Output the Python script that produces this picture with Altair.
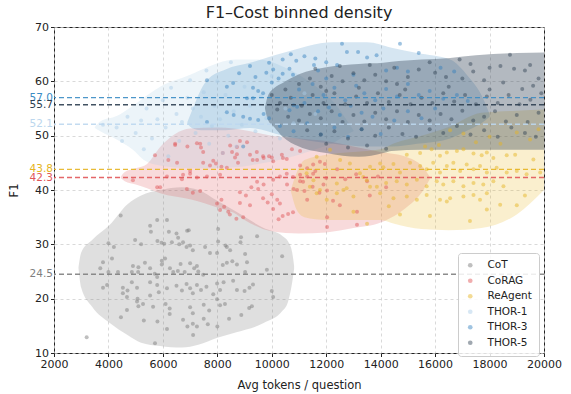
import altair as alt
import pandas as pd

SERIES = ["CoT", "CoRAG", "ReAgent", "THOR-1", "THOR-3", "THOR-5"]
POINT_COLORS = ["#7f7f7f", "#e15759", "#e6b422", "#a9cbe8", "#2f7fbd", "#2c3e50"]
POINT_OPACITY = [0.5, 0.45, 0.45, 0.45, 0.5, 0.5]
LINE_COLORS = ["#7f7f7f", "#e15759", "#e6b422", "#bcd7ee", "#3a8cc4", "#2c3e50"]
BLOB_COLORS = ["#7f7f7f", "#e15759", "#e6b422", "#9ecae1", "#3182bd", "#2c3e50"]
BLOB_OPACITY = [0.25, 0.22, 0.22, 0.2, 0.2, 0.36]
MEANS = [24.5, 42.3, 43.8, 52.1, 57.0, 55.7]

X_TICKS = [2000, 4000, 6000, 8000, 10000, 12000, 14000, 16000, 18000, 20000]
Y_TICKS = [10, 20, 30, 40, 50, 60, 70]

# density outlines: x, upper F1, lower F1
COT_BLOB_X = [2900, 3000, 3400, 4050, 4700, 5200, 5900, 6700, 7300, 8000, 8700, 9700, 10400, 10600, 10750, 10820]
COT_BLOB_TOP = [25.8, 28.5, 30.8, 33.6, 37.4, 39.0, 40.0, 40.5, 40.0, 38.0, 36.0, 33.0, 31.5, 30.5, 28.5, 26.0]
COT_BLOB_BOT = [25.6, 22.0, 18.5, 15.5, 13.3, 11.9, 11.3, 11.0, 11.5, 12.8, 13.8, 15.5, 17.8, 19.5, 23.0, 25.5]

CORAG_BLOB_X = [4450, 4600, 5000, 5420, 5900, 7000, 8000, 8600, 9000, 10000, 11000, 12000, 13000, 14000, 15000, 15500, 15800]
CORAG_BLOB_TOP = [42.4, 43.3, 44.0, 44.8, 47.9, 51.3, 51.5, 51.3, 51.0, 50.0, 49.5, 49.0, 48.0, 47.0, 46.0, 44.5, 42.5]
CORAG_BLOB_BOT = [42.2, 41.6, 41.0, 40.3, 39.4, 38.3, 36.8, 35.8, 34.5, 32.4, 32.0, 32.2, 33.0, 34.0, 37.0, 39.5, 42.0]

REAGENT_BLOB_X = [10700, 10900, 11200, 12000, 13000, 14000, 14500, 15500, 16500, 17700, 19000, 20000]
REAGENT_BLOB_TOP = [40.0, 43.0, 45.5, 46.5, 47.0, 47.5, 48.6, 50.0, 51.6, 54.2, 54.6, 54.8]
REAGENT_BLOB_BOT = [39.8, 36.5, 35.0, 34.5, 34.5, 34.5, 33.8, 32.8, 32.6, 33.0, 35.5, 40.0]

THOR1_BLOB_X = [3500, 3700, 4300, 4900, 5300, 5900, 7000, 7350, 8700, 9500, 10500, 11500, 12300, 12800, 13000]
THOR1_BLOB_TOP = [51.6, 52.6, 53.6, 55.5, 57.0, 59.0, 61.2, 62.0, 64.0, 64.0, 62.5, 59.5, 56.0, 52.5, 51.0]
THOR1_BLOB_BOT = [51.4, 50.8, 49.3, 47.4, 45.5, 44.5, 44.0, 44.0, 44.2, 44.8, 45.8, 47.3, 48.8, 50.3, 50.8]

THOR3_BLOB_X = [6900, 7100, 7400, 7620, 8300, 9200, 10400, 12250, 13500, 14400, 15340, 16550, 17200, 17700, 18000]
THOR3_BLOB_TOP = [52.5, 55.0, 58.5, 60.2, 62.2, 63.4, 65.2, 67.2, 67.2, 66.2, 65.2, 64.0, 61.0, 57.5, 54.0]
THOR3_BLOB_BOT = [52.2, 51.3, 51.0, 51.0, 51.0, 51.4, 50.0, 48.5, 48.0, 48.0, 48.5, 49.5, 51.0, 52.3, 53.5]

THOR5_BLOB_X = [9750, 9850, 10100, 10400, 11000, 12000, 13200, 14100, 14400, 15500, 16550, 17500, 19000, 20000]
THOR5_BLOB_TOP = [55.2, 57.2, 58.8, 59.7, 61.3, 62.6, 63.2, 63.4, 63.6, 64.0, 64.3, 64.8, 65.2, 65.3]
THOR5_BLOB_BOT = [55.0, 53.0, 51.5, 49.8, 48.0, 46.8, 46.1, 46.8, 47.2, 47.4, 47.4, 47.4, 47.4, 47.4]

# scatter points (avg tokens, F1)
COT_PTS = [(4450,35.3),(5790,34.5),(6150,34.5),(5530,33.4),(5560,32.3),(6890,32.5),(6950,32.6),(6220,32.3),(6500,32.0),(6560,31.2),(8030,32.8),(8870,31.3),(9460,31.5),(4980,30.8),(5800,30.6),(5950,30.3),(6050,30.1),(8030,30.5),(8300,29.8),(8850,30.4),(4000,30.2),(4200,29.5),(5200,30.0),(6330,30.4),(6600,30.0),(6740,30.4),(6870,29.5),(7000,29.8),(7100,28.9),(7550,29.5),(7730,28.4),(7990,28.4),(8350,29.5),(8470,28.9),(9020,28.2),(10380,27.8),(3800,26.7),(3700,25.6),(4130,27.4),(4350,24.9),(4000,24.9),(4900,26.0),(5100,25.8),(5340,26.6),(4860,24.9),(5090,24.9),(5960,27.0),(6080,27.4),(5960,26.3),(5530,25.6),(5700,24.6),(5790,24.0),(6260,25.6),(6380,24.9),(6550,25.1),(6650,26.4),(6800,24.9),(7000,26.5),(7150,25.6),(7250,26.0),(7300,25.0),(7480,24.4),(8200,26.2),(8350,26.6),(8550,26.9),(8720,26.3),(9020,24.9),(9090,26.7),(9820,25.3),(3800,22.0),(3950,22.5),(4530,22.0),(4530,21.0),(4700,21.5),(5050,22.0),(5070,20.0),(4860,23.0),(5530,23.0),(5790,22.5),(5850,21.2),(5530,20.6),(6150,21.9),(6500,22.4),(6700,21.5),(6870,22.7),(7000,21.9),(7100,21.0),(7250,22.5),(7400,21.6),(7600,22.2),(7850,20.8),(7990,22.8),(8100,21.6),(8230,23.0),(8580,23.3),(8720,21.6),(9000,21.4),(9180,22.0),(9310,22.6),(10000,21.4),(10050,20.3),(4680,20.3),(4680,17.9),(5050,19.5),(5100,18.6),(5270,19.0),(5640,18.5),(6100,19.0),(6250,18.2),(6250,17.2),(7000,18.4),(7100,17.3),(7500,18.9),(7700,17.8),(7990,19.9),(8100,18.8),(8280,19.0),(9170,18.3),(9270,18.6),(4460,16.6),(5300,16.0),(5800,15.8),(6150,14.4),(6740,16.1),(6900,14.9),(7100,15.4),(7250,14.9),(7500,16.3),(7650,15.3),(8000,14.9),(8430,16.3),(8880,17.0),(7110,13.3),(5710,11.8),(3200,12.9)]

CORAG_PTS = [(6450,48.3),(7250,48.6),(7400,47.8),(7480,47.0),(8540,47.0),(8830,49.0),(9090,48.8),(8650,46.0),(8760,45.0),(7730,44.5),(7950,44.9),(8150,44.3),(8350,44.1),(6200,45.5),(9460,45.5),(9700,45.9),(9900,46.2),(10050,45.3),(10370,46.5),(10410,45.9),(10740,47.5),(11040,47.2),(11040,44.5),(11300,44.0),(11520,44.7),(4900,41.8),(6150,42.5),(6700,42.0),(7000,43.0),(7250,42.3),(7620,42.5),(8100,42.8),(5900,40.5),(6880,40.2),(7100,39.5),(7370,39.8),(7990,37.5),(8150,38.2),(8250,36.9),(8100,36.3),(8400,36.0),(8830,39.6),(9050,39.0),(9250,40.5),(9500,40.2),(8830,37.6),(9200,37.2),(8460,35.5),(8700,34.7),(8950,35.0),(9680,38.5),(9850,37.7),(10000,39.2),(10200,38.2),(10300,37.5),(10050,36.5),(10400,35.2),(10600,35.6),(10780,35.9),(10250,34.6),(10560,41.0),(10800,40.2),(11040,41.6),(11200,39.8),(11500,40.6),(11750,39.5),(11900,41.0),(12030,39.9),(9460,41.5),(9700,41.0),(10050,41.9),(10300,42.5),(10550,43.0),(10780,42.4),(11040,42.8),(11300,42.5),(11520,43.0),(5710,46.4),(6520,45.0),(12030,33.2),(12030,35.0),(13130,36.0),(10930,40.0),(9200,46.5),(9450,47.0),(9680,46.2),(11150,41.5),(11600,43.5),(12000,42.2),(12400,43.8),(12700,42.0),(13100,42.9),(13500,41.6),(13900,42.5),(12250,38.0),(11300,38.2),(13130,33.6),(9300,45.5),(10000,46.0),(10550,45.7),(11770,45.2),(11950,44.8),(5790,40.5),(6740,42.8),(7000,43.5),(7480,45.0),(7850,45.4),(8200,46.8),(8720,46.6),(6450,48.5),(6900,48.0),(7370,48.5),(8470,48.2),(8720,47.9),(12500,37.2),(13600,39.0),(14200,40.5)]

REAGENT_PTS = [(14960,46.5),(15450,46.8),(15870,47.5),(16180,46.3),(16430,46.9),(16800,47.2),(17040,47.5),(17410,46.7),(17710,46.4),(17900,46.9),(18140,45.9),(18630,46.4),(18940,46.5),(19610,45.6),(14100,44.2),(14470,44.8),(14710,43.2),(15080,45.0),(15450,44.4),(15690,43.8),(15930,45.0),(16180,43.2),(16430,44.4),(16670,45.0),(16920,43.5),(17160,44.7),(17410,43.8),(17650,44.4),(17900,43.2),(18260,44.1),(18630,43.2),(19000,43.5),(19360,42.9),(19860,43.2),(14200,41.3),(14590,41.6),(14960,41.0),(15330,41.9),(15690,40.7),(16060,41.6),(16300,41.0),(16670,41.6),(17040,40.7),(17410,41.3),(17770,41.0),(18140,41.6),(18510,40.7),(14470,38.5),(14960,38.8),(15330,38.2),(15690,39.1),(16180,38.2),(16550,38.5),(17040,38.8),(17410,39.1),(17650,38.2),(17900,39.4),(14710,35.5),(15810,35.2),(16430,37.9),(17280,34.3),(17900,36.4),(18390,37.3),(11650,46.1),(12140,47.4),(12510,45.5),(12870,44.9),(13240,43.1),(13610,44.3),(13980,44.9),(11400,40.6),(11770,40.0),(12390,39.4),(12750,40.3),(13490,41.8),(13860,40.6),(11280,43.1),(11530,41.8),(11650,39.4),(12020,38.2),(12390,41.2),(12630,40.0),(13000,38.8),(13360,42.4),(13610,40.6),(13980,39.4),(16550,51.0),(17040,50.4),(18000,49.8),(19000,50.6),(19490,49.3),(19800,51.2),(15630,48.0),(16140,48.3),(18400,48.5),(17500,48.8),(13000,36.0),(13500,33.8),(14300,37.0),(19300,39.0),(19000,37.2)]

THOR1_PTS = [(3800,52.0),(4300,51.5),(4700,53.5),(5000,50.5),(5200,52.8),(5400,55.0),(5600,49.5),(5800,53.0),(6000,56.5),(6100,51.5),(6300,58.8),(6500,54.0),(6600,49.0),(6700,52.5),(6900,57.0),(7000,60.2),(7100,55.0),(7200,50.5),(7400,53.5),(7500,58.0),(7600,62.0),(7700,48.5),(7800,51.8),(7900,55.5),(8000,60.0),(8100,53.0),(8200,46.8),(8300,57.5),(8400,50.0),(8500,63.5),(8600,54.5),(8700,48.0),(8900,52.0),(9000,59.0),(9200,55.5),(9400,50.8),(9600,57.2),(9800,53.2),(10000,61.0),(10300,49.5),(10500,55.0),(10800,52.3),(11200,57.8),(11600,54.0),(5300,47.5),(6200,46.2),(4500,49.0)]

THOR3_PTS = [(7620,60.2),(8350,59.0),(8580,59.7),(9900,63.4),(10050,62.2),(9800,61.6),(10400,61.4),(10650,62.3),(10780,61.2),(9310,58.8),(9500,58.2),(9680,57.8),(9090,56.9),(9310,56.9),(8350,54.3),(8600,53.8),(8950,53.5),(9200,53.1),(9500,52.9),(9700,54.0),(9900,53.2),(7620,52.5),(8950,48.0),(10650,54.7),(10800,55.6),(10930,55.3),(12580,66.9),(14710,66.9),(12760,65.4),(13170,65.4),(11200,64.6),(10900,63.8),(10700,65.0),(11600,64.2),(11550,63.0),(11700,62.0),(10400,64.0),(10250,60.5),(10000,59.8),(12000,63.5),(12400,63.0),(13500,64.4),(13850,64.8),(15400,65.2),(14200,62.0),(14600,62.5),(16200,62.5),(16700,61.8),(11000,58.5),(11500,59.5),(11900,57.5),(12300,58.8),(12700,56.5),(13100,59.2),(13400,57.8),(13800,56.5),(14200,58.6),(14600,57.2),(15000,59.5),(15400,57.5),(15800,58.2),(16300,56.8),(16800,57.5),(17200,56.4),(11200,56.0),(11700,54.5),(12100,55.2),(12500,53.8),(12900,55.5),(13300,54.2),(13700,53.5),(14100,55.0),(14500,52.8),(15000,54.5),(15500,53.2),(16000,55.0),(10300,51.8),(10800,50.8),(11300,52.3),(11800,50.2),(12300,51.5),(12800,49.8),(13300,51.2),(14000,50.3),(9400,60.8),(8800,61.5),(9200,62.8),(12000,60.5),(13000,61.2),(15000,61.8)]

THOR5_PTS = [(16900,64.0),(18750,64.9),(19490,63.0),(18000,62.5),(18400,62.8),(18900,62.3),(19300,62.0),(17400,61.8),(19800,60.5),(15400,62.2),(16000,61.6),(16400,60.8),(17000,60.5),(17800,60.2),(18500,59.8),(19200,58.6),(10500,58.5),(11000,59.5),(11400,60.5),(11800,59.0),(12200,61.0),(12600,60.0),(13000,61.5),(13400,60.2),(13800,61.2),(14200,60.0),(14600,59.5),(15000,60.8),(10300,56.0),(10700,57.0),(11100,55.5),(11500,57.5),(11900,56.0),(12300,57.8),(12700,55.8),(13100,57.2),(13500,56.0),(13900,57.8),(14300,56.2),(14700,57.5),(15100,55.8),(15500,57.0),(15900,56.0),(16300,57.8),(16700,56.3),(17100,57.5),(17500,55.8),(17900,57.2),(18300,56.0),(18700,57.5),(19100,55.8),(19500,56.6),(19900,57.8),(10600,53.5),(11000,52.8),(11400,54.0),(11800,53.2),(12200,54.5),(12600,52.5),(13000,53.8),(13400,52.6),(13800,54.2),(14200,53.0),(14600,54.5),(15000,52.5),(15400,53.8),(15800,52.8),(16200,54.0),(16600,53.0),(17000,54.6),(17400,52.8),(17800,53.5),(18200,54.5),(18600,52.6),(19000,53.8),(19400,52.5),(19800,54.2),(11300,51.0),(11800,50.2),(12300,50.8),(12800,49.5),(13300,51.2),(13800,50.0),(14300,51.5),(14800,50.3),(15300,49.8),(15800,51.2),(16300,50.5),(16800,51.8),(17300,50.2),(17800,51.0),(18300,49.8),(18800,51.5),(19300,50.5),(19700,49.8),(12000,48.5),(12800,47.8),(13500,48.2),(14200,47.6),(11600,62.3),(12500,62.8),(13600,63.0),(14500,62.5),(15800,63.5),(17300,63.2),(10200,54.8),(10000,57.5),(12000,58.2),(13200,58.8),(14900,58.5),(16500,59.0),(18000,58.5),(19600,59.2)]

BLOBS = [
    (COT_BLOB_X, COT_BLOB_TOP, COT_BLOB_BOT),
    (CORAG_BLOB_X, CORAG_BLOB_TOP, CORAG_BLOB_BOT),
    (REAGENT_BLOB_X, REAGENT_BLOB_TOP, REAGENT_BLOB_BOT),
    (THOR1_BLOB_X, THOR1_BLOB_TOP, THOR1_BLOB_BOT),
    (THOR3_BLOB_X, THOR3_BLOB_TOP, THOR3_BLOB_BOT),
    (THOR5_BLOB_X, THOR5_BLOB_TOP, THOR5_BLOB_BOT),
]
POINTS = [COT_PTS, CORAG_PTS, REAGENT_PTS, THOR1_PTS, THOR3_PTS, THOR5_PTS]

FONT = "DejaVu Sans"
INK = "#222222"

xs = alt.Scale(domain=[2000, 20000], nice=False, zero=False)
ys = alt.Scale(domain=[10, 70], nice=False, zero=False)
x_axis = alt.Axis(values=X_TICKS, format="d", title="Avg tokens / question", grid=True,
                  gridDash=[3, 3], gridColor="#cfcfcf", gridWidth=0.8, domain=False,
                  tickColor=INK, tickSize=3.5, labelFontSize=11, titleFontSize=11.5,
                  labelFont=FONT, titleFont=FONT, titleFontWeight="normal",
                  labelColor=INK, titleColor=INK, labelPadding=2, titlePadding=10,
                  labelFlush=False)
y_axis = alt.Axis(values=Y_TICKS, format="d", title="F1", grid=True,
                  gridDash=[3, 3], gridColor="#cfcfcf", gridWidth=0.8, domain=False,
                  tickColor=INK, tickSize=3.5, labelFontSize=11, titleFontSize=11.5,
                  labelFont=FONT, titleFont=FONT, titleFontWeight="normal",
                  labelColor=INK, titleColor=INK, labelPadding=2, titlePadding=15,
                  labelFlush=False)

layers = []
for i, (bx, bt, bb) in enumerate(BLOBS):
    df = pd.DataFrame({"tokens": bx, "f1": bt, "f1b": bb})
    layers.append(
        alt.Chart(df).mark_area(color=BLOB_COLORS[i], opacity=BLOB_OPACITY[i],
                                interpolate="monotone")
        .encode(x=alt.X("tokens:Q", scale=xs, axis=x_axis),
                y=alt.Y("f1:Q", scale=ys, axis=y_axis),
                y2="f1b:Q")
    )

rows = []
for name, pts in zip(SERIES, POINTS):
    for tx, f in pts:
        rows.append({"tokens": tx, "f1": f, "series": name})
pts_df = pd.DataFrame(rows)

layers.append(
    alt.Chart(pts_df).mark_circle(size=16, strokeWidth=0)
    .encode(
        x=alt.X("tokens:Q", scale=xs, axis=x_axis),
        y=alt.Y("f1:Q", scale=ys, axis=y_axis),
        color=alt.Color("series:N", sort=SERIES,
                        scale=alt.Scale(domain=SERIES, range=POINT_COLORS),
                        legend=alt.Legend(title=None, orient="none", legendX=404, legendY=226,
                                          symbolType="circle", symbolSize=22,
                                          symbolOpacity=0.45, symbolStrokeWidth=0,
                                          labelFontSize=10.5, labelFont=FONT,
                                          labelColor=INK, fillColor="rgba(255,255,255,0.85)",
                                          strokeColor="#cccccc", cornerRadius=3,
                                          padding=7, rowPadding=4.5, labelOffset=12)),
        opacity=alt.Opacity("series:N",
                            scale=alt.Scale(domain=SERIES, range=POINT_OPACITY),
                            legend=None),
    )
)

for i, m in enumerate(MEANS):
    mdf = pd.DataFrame({"f1": [m]})
    layers.append(
        alt.Chart(mdf).mark_rule(color=LINE_COLORS[i], strokeDash=[5, 3],
                                 strokeWidth=1.4, opacity=0.9)
        .encode(y=alt.Y("f1:Q", scale=ys, axis=y_axis))
    )
    layers.append(
        alt.Chart(mdf).mark_text(color=LINE_COLORS[i], align="right", baseline="middle",
                                 fontSize=10.5, font=FONT)
        .encode(x=alt.value(-1), y=alt.Y("f1:Q", scale=ys, axis=y_axis),
                text=alt.Text("f1:Q", format=".1f"))
    )

chart = (
    alt.layer(*layers)
    .properties(
        width=490, height=326,
        title=alt.TitleParams("F1\u2013Cost binned density", fontSize=16, font=FONT,
                              fontWeight="normal", color=INK, anchor="middle", offset=0),
        autosize=alt.AutoSizeParams(type="none"),
        padding={"left": 54, "top": 27, "right": 27, "bottom": 41},
    )
    .configure_view(stroke=INK, strokeWidth=1)
)

chart.save("out.html", embed_options={"renderer": "svg", "actions": False})
